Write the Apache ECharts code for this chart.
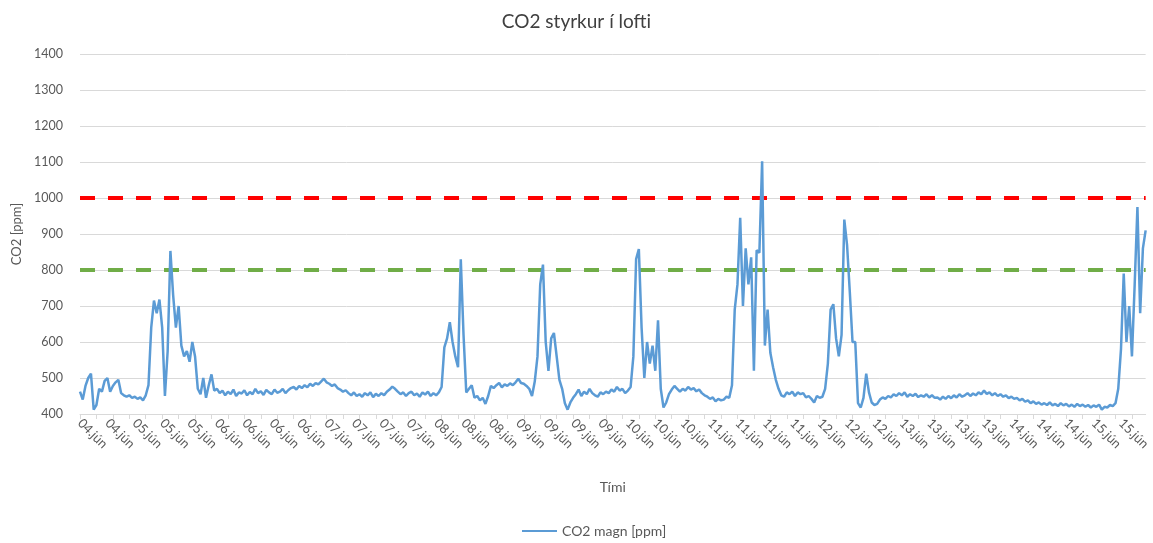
<!DOCTYPE html>
<html>
<head>
<meta charset="utf-8">
<script src="https://cdn.jsdelivr.net/npm/echarts@6/dist/echarts.min.js"></script>
<style>
  html, body { margin: 0; padding: 0; background: #fff; }
  #chart { width: 1153px; height: 543px; }
</style>
</head>
<body>
<div id="chart"></div>
<script>
// dagsetningar undir x-ás (einn merkimiði á hverja 10 mælipunkta)
var tickLabels = ['04.jún','04.jún','05.jún','05.jún','05.jún','06.jún','06.jún','06.jún','06.jún',
  '07.jún','07.jún','07.jún','07.jún','08.jún','08.jún','08.jún','09.jún','09.jún','09.jún','09.jún',
  '10.jún','10.jún','10.jún','11.jún','11.jún','11.jún','11.jún','12.jún','12.jún','12.jún',
  '13.jún','13.jún','13.jún','13.jún','14.jún','14.jún','14.jún','15.jún','15.jún'];

// CO2 magn [ppm], lesið af mynd
var co2 = [
  462, 440, 478, 500, 512, 412, 425, 470, 462, 492,
  500, 462, 478, 488, 495, 458, 452, 448, 452, 445,
  448, 442, 446, 438, 452, 480, 640, 715, 680, 718,
  640, 450, 575, 853, 730, 640, 700, 590, 560, 575,
  545, 600, 560, 470, 455, 500, 445, 480, 510, 465,
  470, 458, 465, 452, 462, 455, 468, 450, 460, 457,
  466, 452, 461, 455, 470, 458, 463, 453, 467, 460,
  455, 468, 459, 462, 470, 458, 466, 472,
  475, 468, 478, 472, 480, 474, 484, 478, 486, 482,
  490, 498, 488, 484, 478, 482, 472, 468, 462, 466,
  458, 452, 460, 450, 455, 448, 458, 452, 460, 447,
  456, 450, 458, 452, 462, 468, 476, 470, 462, 455,
  460, 450, 458, 462, 452, 457, 448, 460, 454, 462,
  450, 458, 452, 460, 475, 585, 610, 655, 600, 560,
  530, 830, 620, 460, 470, 480, 445, 450, 438, 445,
  428, 450, 478, 472, 480, 486, 474, 482,
  478, 485, 480, 488, 498, 486, 484, 478, 470, 450,
  490, 560, 760, 815, 600, 520, 610, 625, 560, 495,
  470, 430, 412, 432, 445, 455, 468, 450, 462, 455,
  470, 458, 452, 448, 460, 455, 462, 458, 468, 462,
  475, 465, 470, 458, 465, 475, 560, 830, 858, 640,
  500, 600, 540, 590, 520, 660, 470, 418, 432, 455,
  468, 478, 470, 462, 470, 465, 475, 468, 472, 463,
  468, 458, 452, 448, 442, 446, 435, 442, 438,
  440, 448, 445, 480, 690, 760, 945, 700, 860, 760,
  835, 520, 855, 848, 1102, 590, 690, 570, 530, 495,
  470, 452, 448, 460, 455, 462, 450, 460, 455, 458,
  446, 450, 442, 432, 450, 445, 448, 470, 540, 690,
  705, 610, 560, 620, 940, 870, 740, 600, 600, 430,
  418, 445, 512, 460, 432, 425, 428, 440, 446, 442,
  450, 446, 455, 450, 458, 452, 460, 448, 455, 450,
  456, 447, 452, 448, 455, 446, 452, 445,
  446, 440, 448, 442, 450, 444, 452, 446, 455, 448,
  452, 458, 450, 457, 452, 460, 455, 465, 456, 460,
  452, 458, 450, 455, 448, 452, 444, 448, 442, 445,
  438, 442, 434, 438, 430, 435, 428, 432, 426, 430,
  425, 432, 424, 428, 422, 430, 424, 428, 421, 426,
  420, 428, 422, 426, 420, 425, 418, 424, 420, 426,
  412, 420, 418, 425, 422, 430, 470, 580, 790, 600,
  700, 560, 760, 975, 680, 860, 910
];

// viðmiðunarmörk
var limitHigh = 1000;
var limitLow = 800;

var pointsPerLabel = 10;
var categories = co2.map(function (v, i) {
  return tickLabels[Math.min(Math.floor(i / pointsPerLabel), tickLabels.length - 1)];
});

var font = 'Lato, "Open Sans", sans-serif';
var chart = echarts.init(document.getElementById('chart'));

var option = {
  animation: false,
  backgroundColor: '#fff',
  textStyle: { fontFamily: font },
  title: {
    text: 'CO2 styrkur í lofti',
    left: 'center',
    top: 7,
    textStyle: { fontFamily: font, fontSize: 19, fontWeight: 'normal', color: '#404040' }
  },
  legend: {
    data: ['CO2 magn [ppm]'],
    left: 517,
    top: 519,
    icon: 'rect',
    itemWidth: 35,
    itemHeight: 2,
    textStyle: { fontFamily: font, fontSize: 14, color: '#595959' }
  },
  grid: { left: 80, right: 6, top: 54, bottom: 129 },
  xAxis: {
    type: 'category',
    data: categories,
    boundaryGap: false,
    name: 'Tími',
    nameLocation: 'middle',
    nameGap: 66,
    nameTextStyle: { fontFamily: font, fontSize: 14, color: '#595959' },
    axisLine: { lineStyle: { color: '#D9D9D9', width: 1 } },
    axisTick: { interval: 5, length: 5, lineStyle: { color: '#D9D9D9' } },
    axisLabel: {
      interval: pointsPerLabel - 1,
      rotate: -45,
      margin: 7,
      fontFamily: font,
      fontSize: 13,
      color: '#595959'
    },
    splitLine: { show: false }
  },
  yAxis: {
    type: 'value',
    min: 400,
    max: 1400,
    interval: 100,
    name: 'CO2 [ppm]',
    nameLocation: 'middle',
    nameGap: 57,
    nameTextStyle: { fontFamily: font, fontSize: 13, color: '#595959' },
    axisLine: { show: false },
    axisTick: { show: false },
    axisLabel: {
      margin: 17,
      fontFamily: font,
      fontSize: 12.5,
      color: '#595959',
      formatter: function (v) { return String(v); }
    },
    splitLine: { lineStyle: { color: '#D9D9D9', width: 1 } }
  },
  series: [
    {
      name: 'Mörk ' + limitHigh,
      type: 'line',
      data: co2.map(function () { return limitHigh; }),
      symbol: 'none',
      silent: true,
      lineStyle: { color: '#FF0000', width: 4, type: [15, 13] }
    },
    {
      name: 'Mörk ' + limitLow,
      type: 'line',
      data: co2.map(function () { return limitLow; }),
      symbol: 'none',
      silent: true,
      lineStyle: { color: '#70AD47', width: 4, type: [15, 13] }
    },
    {
      name: 'CO2 magn [ppm]',
      type: 'line',
      data: co2,
      symbol: 'none',
      color: '#5B9BD5',
      itemStyle: { color: '#5B9BD5' },
      lineStyle: { color: '#5B9BD5', width: 2.5 }
    }
  ]
};

chart.setOption(option);
</script>
</body>
</html>
